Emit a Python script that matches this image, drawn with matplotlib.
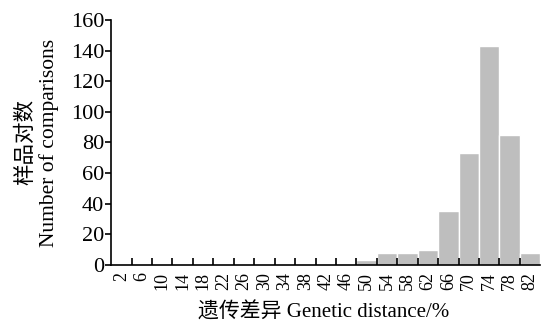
import matplotlib
matplotlib.use("Agg")
import matplotlib.pyplot as plt
from matplotlib.ticker import FixedLocator, NullFormatter
import numpy as np

# Genetic distance classes (%) and number of sample comparisons
distance = [2, 6, 10, 14, 18, 22, 26, 30, 34, 38, 42, 46, 50, 54, 58, 62, 66, 70, 74, 78, 82]
counts = [1, 0, 0, 0, 0, 0, 0, 0, 0, 0, 0, 0.5, 3, 8, 8, 10, 35, 73, 143, 85, 8]
y_ticks = [0, 20, 40, 60, 80, 100, 120, 140, 160]

plt.rcParams['font.family'] = ['Liberation Serif', 'Noto Sans CJK SC']

fig = plt.figure(figsize=(5.42, 3.26), dpi=100)
ax = fig.add_axes([0.205, 0.187, 0.792, 0.752])

ax.bar(distance, counts, width=4, color='#bebebe', edgecolor='white', linewidth=1)

ax.set_xlim(0, 84)
ax.set_ylim(0, 160)
ax.set_yticks(y_ticks)

# bar boundaries get inward ticks, bar centres get the labels
ax.xaxis.set_major_locator(FixedLocator(np.arange(4, 84, 4)))
ax.xaxis.set_major_formatter(NullFormatter())
ax.xaxis.set_minor_locator(FixedLocator(distance))
ax.set_xticklabels([str(d) for d in distance], minor=True, rotation=90, fontsize=13)
ax.tick_params(axis='x', which='major', direction='in', length=5, width=1.2)
ax.tick_params(axis='x', which='minor', length=0, pad=5)
ax.tick_params(axis='y', direction='out', length=4, width=1.2, labelsize=16, pad=1)

for side in ['top', 'right']:
    ax.spines[side].set_visible(False)
for side in ['left', 'bottom']:
    ax.spines[side].set_linewidth(1.2)

# axis titles placed by hand (rotated minor labels confuse the auto placement)
fig.text(0.069, 0.563, '样品对数\nNumber of comparisons', fontsize=15.5,
         rotation=90, ha='center', va='center', linespacing=1.15)
fig.text(0.598, 0.04, '遗传差异 Genetic distance/%', fontsize=15,
         ha='center', va='center')

fig.savefig('out.png', dpi=100)
